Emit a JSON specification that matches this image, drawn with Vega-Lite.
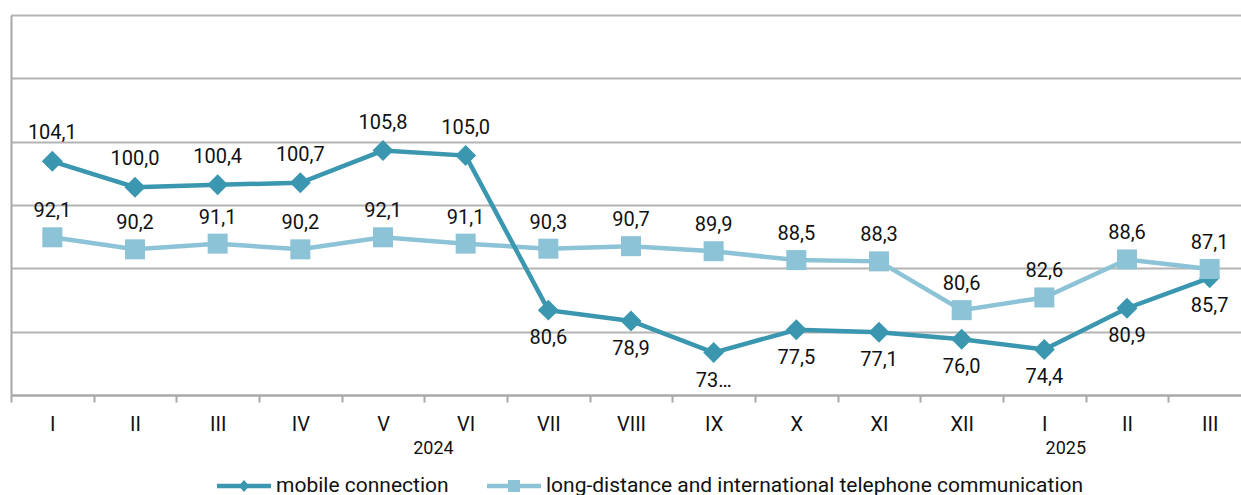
{
  "$schema": "https://vega.github.io/schema/vega-lite/v6.json",
  "width": 1230,
  "height": 380,
  "autosize": {"type": "none"},
  "padding": {"left": 11, "top": 15, "right": 0, "bottom": 100},
  "config": {
    "font": "Roboto",
    "view": {"stroke": null},
    "axis": {
      "domainColor": "#a8a8a8",
      "domainWidth": 2,
      "gridColor": "#b4b4b4",
      "gridWidth": 2,
      "tickColor": "#a8a8a8",
      "tickWidth": 2
    }
  },
  "data": {
    "values": [
      {"period": "2024-I", "series": "mobile connection", "value": 104.1, "label": "104,1"},
      {"period": "2024-II", "series": "mobile connection", "value": 100.0, "label": "100,0"},
      {"period": "2024-III", "series": "mobile connection", "value": 100.4, "label": "100,4"},
      {"period": "2024-IV", "series": "mobile connection", "value": 100.7, "label": "100,7"},
      {"period": "2024-V", "series": "mobile connection", "value": 105.8, "label": "105,8"},
      {"period": "2024-VI", "series": "mobile connection", "value": 105.0, "label": "105,0"},
      {"period": "2024-VII", "series": "mobile connection", "value": 80.6, "label": "80,6"},
      {"period": "2024-VIII", "series": "mobile connection", "value": 78.9, "label": "78,9"},
      {"period": "2024-IX", "series": "mobile connection", "value": 73.9, "label": "73…"},
      {"period": "2024-X", "series": "mobile connection", "value": 77.5, "label": "77,5"},
      {"period": "2024-XI", "series": "mobile connection", "value": 77.1, "label": "77,1"},
      {"period": "2024-XII", "series": "mobile connection", "value": 76.0, "label": "76,0"},
      {"period": "2025-I", "series": "mobile connection", "value": 74.4, "label": "74,4"},
      {"period": "2025-II", "series": "mobile connection", "value": 80.9, "label": "80,9"},
      {"period": "2025-III", "series": "mobile connection", "value": 85.7, "label": "85,7"},
      {"period": "2024-I", "series": "long-distance and international telephone communication", "value": 92.1, "label": "92,1"},
      {"period": "2024-II", "series": "long-distance and international telephone communication", "value": 90.2, "label": "90,2"},
      {"period": "2024-III", "series": "long-distance and international telephone communication", "value": 91.1, "label": "91,1"},
      {"period": "2024-IV", "series": "long-distance and international telephone communication", "value": 90.2, "label": "90,2"},
      {"period": "2024-V", "series": "long-distance and international telephone communication", "value": 92.1, "label": "92,1"},
      {"period": "2024-VI", "series": "long-distance and international telephone communication", "value": 91.1, "label": "91,1"},
      {"period": "2024-VII", "series": "long-distance and international telephone communication", "value": 90.3, "label": "90,3"},
      {"period": "2024-VIII", "series": "long-distance and international telephone communication", "value": 90.7, "label": "90,7"},
      {"period": "2024-IX", "series": "long-distance and international telephone communication", "value": 89.9, "label": "89,9"},
      {"period": "2024-X", "series": "long-distance and international telephone communication", "value": 88.5, "label": "88,5"},
      {"period": "2024-XI", "series": "long-distance and international telephone communication", "value": 88.3, "label": "88,3"},
      {"period": "2024-XII", "series": "long-distance and international telephone communication", "value": 80.6, "label": "80,6"},
      {"period": "2025-I", "series": "long-distance and international telephone communication", "value": 82.6, "label": "82,6"},
      {"period": "2025-II", "series": "long-distance and international telephone communication", "value": 88.6, "label": "88,6"},
      {"period": "2025-III", "series": "long-distance and international telephone communication", "value": 87.1, "label": "87,1"}
    ]
  },
  "encoding": {
    "x": {
      "field": "period",
      "type": "nominal",
      "sort": null,
      "scale": {
        "type": "band",
        "domain": ["2024-I", "2024-II", "2024-III", "2024-IV", "2024-V", "2024-VI", "2024-VII", "2024-VIII", "2024-IX", "2024-X", "2024-XI", "2024-XII", "2025-I", "2025-II", "2025-III"],
        "range": [0, 1240],
        "paddingInner": 0,
        "paddingOuter": 0
      },
      "axis": {
        "title": null,
        "grid": false,
        "tickBand": "extent",
        "tickSize": 7,
        "labelAngle": 0,
        "labelFontSize": 20,
        "labelColor": "#111111",
        "labelPadding": 12,
        "labelExpr": "split(datum.value, '-')[1]"
      }
    },
    "y": {
      "field": "value",
      "type": "quantitative",
      "scale": {"domain": [67.2, 127.2], "nice": false, "zero": false},
      "axis": {
        "title": null,
        "values": [67.2, 77.2, 87.2, 97.2, 107.2, 117.2, 127.2],
        "labels": false,
        "ticks": false,
        "domain": true,
        "grid": true
      }
    }
  },
  "layer": [
    {
      "transform": [{"filter": "datum.series != 'mobile connection'"}],
      "mark": {"type": "line", "strokeWidth": 4.5},
      "encoding": {
        "color": {
          "field": "series",
          "type": "nominal",
          "sort": null,
          "scale": {
            "domain": ["mobile connection", "long-distance and international telephone communication"],
            "range": ["#3a97af", "#8dc3d6"]
          },
          "legend": {
            "title": null,
            "orient": "none",
            "direction": "horizontal",
            "legendX": 206,
            "legendY": 444,
            "padding": 0,
            "symbolSize": 2916,
            "columnPadding": 38,
            "labelFontSize": 21,
            "labelColor": "#111111",
            "labelOffset": 5,
            "labelLimit": 800,
            "encode": {
              "symbols": {
                "update": {
                  "shape": {"signal": "datum.value === 'mobile connection' ? 'M-1,-0.08H1V0.08H-1Z M-0.2,0L0,-0.22L0.2,0L0,0.22Z' : 'M-1,-0.08H1V0.08H-1Z M-0.22,-0.22H0.22V0.22H-0.22Z'"},
                  "fill": {"scale": "color", "field": "value"},
                  "strokeWidth": {"value": 0},
                  "opacity": {"value": 1}
                }
              }
            }
          }
        }
      }
    },
    {
      "transform": [{"filter": "datum.series == 'mobile connection'"}],
      "mark": {"type": "line", "strokeWidth": 4.5},
      "encoding": {"color": {"field": "series", "type": "nominal", "sort": null}}
    },
    {
      "transform": [{"filter": "datum.series == 'mobile connection'"}],
      "mark": {"type": "point", "shape": "diamond", "filled": true, "size": 440, "opacity": 1, "color": "#3a97af"},
      "encoding": {}
    },
    {
      "transform": [{"filter": "datum.series != 'mobile connection'"}],
      "mark": {"type": "point", "shape": "square", "filled": true, "size": 400, "opacity": 1, "color": "#8dc3d6"},
      "encoding": {}
    },
    {
      "transform": [{"filter": "datum.series == 'mobile connection' && indexof(['2024-I','2024-II','2024-III','2024-IV','2024-V','2024-VI'], datum.period) >= 0"}],
      "mark": {"type": "text", "fontSize": 20, "color": "#111111", "baseline": "middle", "dy": -28},
      "encoding": {"text": {"field": "label"}}
    },
    {
      "transform": [{"filter": "datum.series == 'mobile connection' && indexof(['2024-I','2024-II','2024-III','2024-IV','2024-V','2024-VI'], datum.period) < 0"}],
      "mark": {"type": "text", "fontSize": 20, "color": "#111111", "baseline": "middle", "dy": 28},
      "encoding": {"text": {"field": "label"}}
    },
    {
      "transform": [{"filter": "datum.series != 'mobile connection'"}],
      "mark": {"type": "text", "fontSize": 20, "color": "#111111", "baseline": "middle", "dy": -26},
      "encoding": {"text": {"field": "label"}}
    },
    {
      "transform": [{"filter": "datum.series == 'mobile connection' && datum.period == '2024-VI'"}],
      "mark": {"type": "text", "fontSize": 18, "color": "#111111", "baseline": "middle"},
      "encoding": {
        "x": {"field": "period", "type": "nominal", "bandPosition": 0.11},
        "y": {"value": 434},
        "text": {"value": "2024"}
      }
    },
    {
      "transform": [{"filter": "datum.series == 'mobile connection' && datum.period == '2025-I'"}],
      "mark": {"type": "text", "fontSize": 18, "color": "#111111", "baseline": "middle"},
      "encoding": {
        "x": {"field": "period", "type": "nominal", "bandPosition": 0.76},
        "y": {"value": 434},
        "text": {"value": "2025"}
      }
    }
  ]
}
